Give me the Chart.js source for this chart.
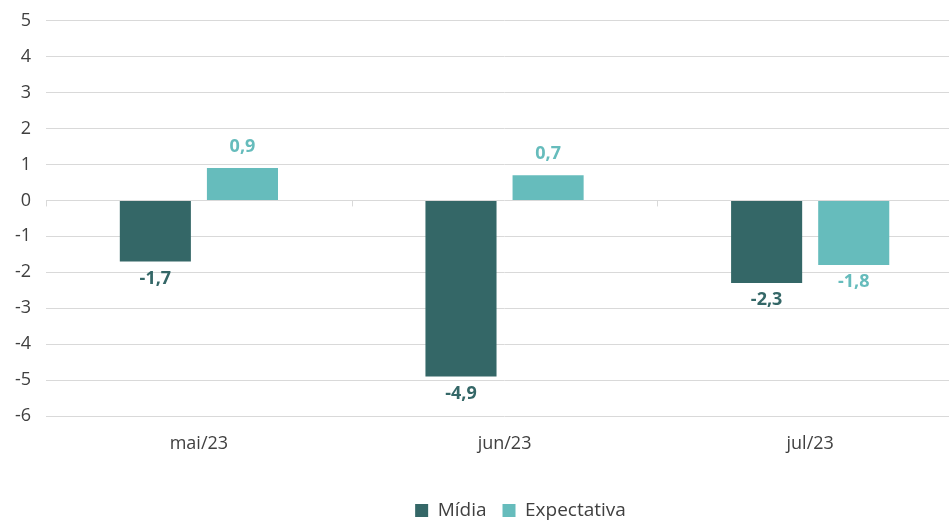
<!DOCTYPE html>
<html>
<head>
<meta charset="utf-8">
<script src="https://cdn.jsdelivr.net/npm/chart.js@4"></script>
<style>
  html, body { margin: 0; padding: 0; background: #fff; overflow: hidden; }
  #wrap { position: absolute; left: 0; top: -5px; width: 963px; height: 527px; }
</style>
</head>
<body>
<div id="wrap"><canvas id="chart"></canvas></div>
<script>
// data
const categories = ['mai/23', 'jun/23', 'jul/23'];
const midia = [-1.7, -4.9, -2.3];
const expectativa = [0.9, 0.7, -1.8];
const yTicks = [5, 4, 3, 2, 1, 0, -1, -2, -3, -4, -5, -6];

const darkTeal = '#346767';
const lightTeal = '#66bcbc';
const gridColor = '#d9d9d9';
const textColor = '#404040';
const baseFont = { family: "'Open Sans', sans-serif", size: 18 };

const fmt = v => v.toFixed(1).replace('.', ',');

// labels above positive bars / below negative bars
const valueLabels = {
  id: 'valueLabels',
  afterDatasetsDraw(chart) {
    const ctx = chart.ctx;
    ctx.save();
    ctx.font = "bold 18px 'Open Sans', sans-serif";
    ctx.textAlign = 'center';
    ctx.textBaseline = 'middle';
    chart.data.datasets.forEach((ds, i) => {
      chart.getDatasetMeta(i).data.forEach((bar, j) => {
        const v = ds.data[j];
        ctx.fillStyle = ds.backgroundColor;
        const y = v >= 0 ? bar.y - 21 : bar.y + 17;
        ctx.fillText(fmt(v), bar.x, y);
      });
    });
    ctx.restore();
  }
};

// small tick marks on the zero line at category boundaries
const zeroTicks = {
  id: 'zeroTicks',
  afterDatasetsDraw(chart) {
    const ctx = chart.ctx;
    const y0 = chart.scales.y.getPixelForValue(0);
    const step = (chart.chartArea.right - chart.chartArea.left) / categories.length;
    ctx.save();
    ctx.strokeStyle = gridColor;
    ctx.lineWidth = 1;
    ctx.beginPath();
    for (let k = 0; k <= categories.length; k++) {
      const px = Math.round(chart.chartArea.left + k * step) + 0.5;
      ctx.moveTo(px, y0);
      ctx.lineTo(px, y0 + 6);
    }
    ctx.stroke();
    ctx.restore();
  }
};

// legend sits a bit right of centre in the original
const legendShift = {
  id: 'legendShift',
  afterLayout(chart) {
    chart.legend.left += 39;
    chart.legend.right += 39;
  }
};

new Chart(document.getElementById('chart'), {
  type: 'bar',
  data: {
    labels: categories,
    datasets: [
      { label: 'Mídia', data: midia, backgroundColor: darkTeal,
        categoryPercentage: 0.57, barPercentage: 0.816 },
      { label: 'Expectativa', data: expectativa, backgroundColor: lightTeal,
        categoryPercentage: 0.57, barPercentage: 0.816 }
    ]
  },
  options: {
    responsive: true,
    maintainAspectRatio: false,
    animation: false,
    layout: { padding: { top: 0, left: 0, right: 0, bottom: -8 } },
    plugins: {
      tooltip: { enabled: false },
      legend: {
        position: 'bottom',
        labels: {
          color: textColor,
          font: { family: "'Open Sans', sans-serif", size: 19 },
          boxWidth: 13,
          boxHeight: 13,
          padding: 16
        }
      }
    },
    scales: {
      x: {
        grid: { display: false },
        border: { display: false },
        ticks: { color: textColor, font: baseFont, padding: 9 },
        afterFit: axis => { axis.height = 69; }
      },
      y: {
        min: -6,
        max: 5,
        afterBuildTicks: axis => { axis.ticks = yTicks.map(v => ({ value: v })); },
        grid: { color: gridColor, drawTicks: false },
        border: { display: false },
        ticks: { color: textColor, font: baseFont, padding: 15 }
      }
    }
  },
  plugins: [valueLabels, zeroTicks, legendShift]
});
</script>
</body>
</html>
